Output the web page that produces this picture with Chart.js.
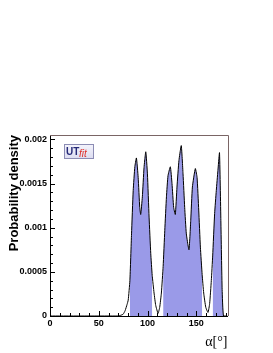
<!DOCTYPE html>
<html><head><meta charset="utf-8">
<script src="https://cdn.jsdelivr.net/npm/chart.js@4/dist/chart.umd.min.js"></script>
<style>html,body{margin:0;padding:0;background:#fff;}canvas{display:block;}</style>
</head><body>
<canvas id="c" width="273" height="353"></canvas>
<script>
// alpha (degrees) and probability density
const alphaDeg = [0, 70, 73, 75, 77, 79, 80.2, 81.9, 83.6, 85.3, 87, 88.6, 90.4, 92, 93, 94.7, 96.4, 98.2, 99.9, 101.6, 103.3, 104.8, 106.7, 108.4, 110.8, 112.5, 114.2, 116, 117.7, 119.4, 121, 123.4, 125.1, 126.8, 128.5, 130.2, 132.2, 134.6, 136.4, 138.1, 139.8, 142.5, 144.3, 146, 149, 150.8, 152.5, 154.2, 156, 157.6, 159.7, 162, 163.7, 165.4, 166.8, 168.8, 170.5, 172.2, 173.8, 175.2, 176.5, 177.9, 182];
const density = [0, 0, 0.00001, 0.00002, 0.00006, 0.00013, 0.00018, 0.0004, 0.00093, 0.00142, 0.00169, 0.00179, 0.00157, 0.00123, 0.00115, 0.00135, 0.00168, 0.00186, 0.00161, 0.00112, 0.00071, 0.00046, 0.00026, 0.00012, 0.00003, 0.0001, 0.00026, 0.00056, 0.00097, 0.00135, 0.00159, 0.00169, 0.0015, 0.00123, 0.00115, 0.00146, 0.00176, 0.00193, 0.00161, 0.00123, 0.00093, 0.00075, 0.00108, 0.00146, 0.00167, 0.00157, 0.0012, 0.00078, 0.00047, 0.00026, 0.0001, 0.00004, 0.00014, 0.0004, 0.00068, 0.00116, 0.00142, 0.00165, 0.00185, 0.00108, 0.0003, 0, 0];
// shaded probability ranges
const shadedRanges = [[81.9, 104.8], [116, 156], [166.8, 177.9]];
// axis ticks
const xMajorTicks = [0, 50, 100, 150];
const xMinorStep = 10;
const yMajorTicks = [0, 0.0005, 0.001, 0.0015, 0.002];
const yTickLabels = ['0', '0.0005', '0.001', '0.0015', '0.002'];
const yMinorStep = 0.0001;
const X_MIN = 0, X_MAX = 182, Y_MIN = 0, Y_MAX = 0.00205;

const curvePts = alphaDeg.map((x, i) => ({x, y: density[i]}));
const fillPts = [];
shadedRanges.forEach((r, k) => {
  alphaDeg.forEach((x, i) => { if (x >= r[0] && x <= r[1]) fillPts.push({x, y: density[i]}); });
  if (k < shadedRanges.length - 1) fillPts.push({x: (r[1] + shadedRanges[k+1][0]) / 2, y: null});
});

const insideTicks = {
  id: 'insideTicks',
  afterDatasetsDraw(chart) {
    const {ctx, chartArea: a, scales: {x, y}} = chart;
    ctx.save();
    ctx.strokeStyle = '#000';
    ctx.lineWidth = 1;
    ctx.beginPath();
    for (let v = X_MIN; v <= 180 + 1e-9; v += xMinorStep) {
      const px = Math.round(x.getPixelForValue(v)) + 0.5;
      const len = xMajorTicks.includes(Math.round(v)) ? 5 : 3;
      ctx.moveTo(px, a.bottom); ctx.lineTo(px, a.bottom - len);
    }
    for (let k = 0; k <= 20; k++) {
      const v = k * yMinorStep;
      const py = Math.round(y.getPixelForValue(v)) + 0.5;
      const len = (k % 5 === 0) ? 5 : 3;
      ctx.moveTo(a.left, py); ctx.lineTo(a.left + len, py);
    }
    ctx.stroke();
    // top and right frame
    ctx.strokeStyle = '#7a6565';
    ctx.beginPath();
    ctx.moveTo(a.left, Math.round(a.top) + 0.5);
    ctx.lineTo(Math.round(a.right) + 0.5, Math.round(a.top) + 0.5);
    ctx.lineTo(Math.round(a.right) + 0.5, a.bottom);
    ctx.stroke();
    // UTfit logo
    const bx = 64.5, by = 144.5, bw = 29, bh = 14;
    const g = ctx.createLinearGradient(0, by, 0, by + bh);
    g.addColorStop(0, '#f4f4fc'); g.addColorStop(1, '#dcdcf0');
    ctx.fillStyle = g;
    ctx.fillRect(bx, by, bw, bh);
    ctx.strokeStyle = '#8c8cb4';
    ctx.strokeRect(bx, by, bw, bh);
    ctx.textBaseline = 'alphabetic';
    ctx.textAlign = 'left';
    ctx.fillStyle = '#262a78';
    ctx.font = 'bold 10px "Liberation Sans", Arial, sans-serif';
    ctx.fillText('UT', 66, 154.5);
    ctx.fillStyle = '#e0302a';
    ctx.font = 'italic 10px "Liberation Sans", Arial, sans-serif';
    ctx.fillText('fit', 79, 157);
    ctx.restore();
  }
};

new Chart(document.getElementById('c'), {
  type: 'line',
  data: {
    datasets: [
      {data: curvePts, borderColor: '#000', borderWidth: 1, pointRadius: 0, fill: false, tension: 0.15, order: 0},
      {data: fillPts, borderWidth: 0, borderColor: 'rgba(0,0,0,0)', backgroundColor: '#9a9ae8', pointRadius: 0, fill: 'origin', spanGaps: false, tension: 0.15, order: 1}
    ]
  },
  options: {
    responsive: false,
    animation: false,
    devicePixelRatio: 1,
    layout: {padding: {top: 135, right: 45.5, left: 0, bottom: 0}},
    plugins: {legend: {display: false}, tooltip: {enabled: false}},
    scales: {
      x: {
        type: 'linear', min: X_MIN, max: X_MAX,
        afterBuildTicks: s => { s.ticks = xMajorTicks.map(v => ({value: v})); },
        afterFit: s => { s.height = 37; },
        grid: {display: false, drawTicks: false},
        border: {display: true, color: '#000', width: 1},
        ticks: {padding: 2, color: '#000', maxRotation: 0, autoSkip: false,
          font: {family: '"Liberation Sans", Arial, sans-serif', size: 9, weight: 'bold'},
          callback: v => String(v)},
        title: {display: true, text: 'α[°]', align: 'end', color: '#000',
          font: {family: '"Liberation Serif", "Times New Roman", serif', size: 14},
          padding: {top: 0, bottom: 2}}
      },
      y: {
        type: 'linear', min: Y_MIN, max: Y_MAX,
        afterBuildTicks: s => { s.ticks = yMajorTicks.map(v => ({value: v})); },
        afterFit: s => { s.width = 50; },
        grid: {display: false, drawTicks: false},
        border: {display: true, color: '#000', width: 1},
        ticks: {padding: 3, color: '#000', autoSkip: false,
          font: {family: '"Liberation Sans", Arial, sans-serif', size: 9, weight: 'bold'},
          callback: (v) => { const i = yMajorTicks.findIndex(t => Math.abs(t - v) < 1e-9); return i >= 0 ? yTickLabels[i] : ''; }},
        title: {display: true, text: 'Probability density', align: 'end', color: '#000',
          font: {family: '"Liberation Sans", Arial, sans-serif', size: 13, weight: 'bold'},
          padding: {top: 7, bottom: 0}}
      }
    }
  },
  plugins: [insideTicks]
});
</script>
</body></html>
